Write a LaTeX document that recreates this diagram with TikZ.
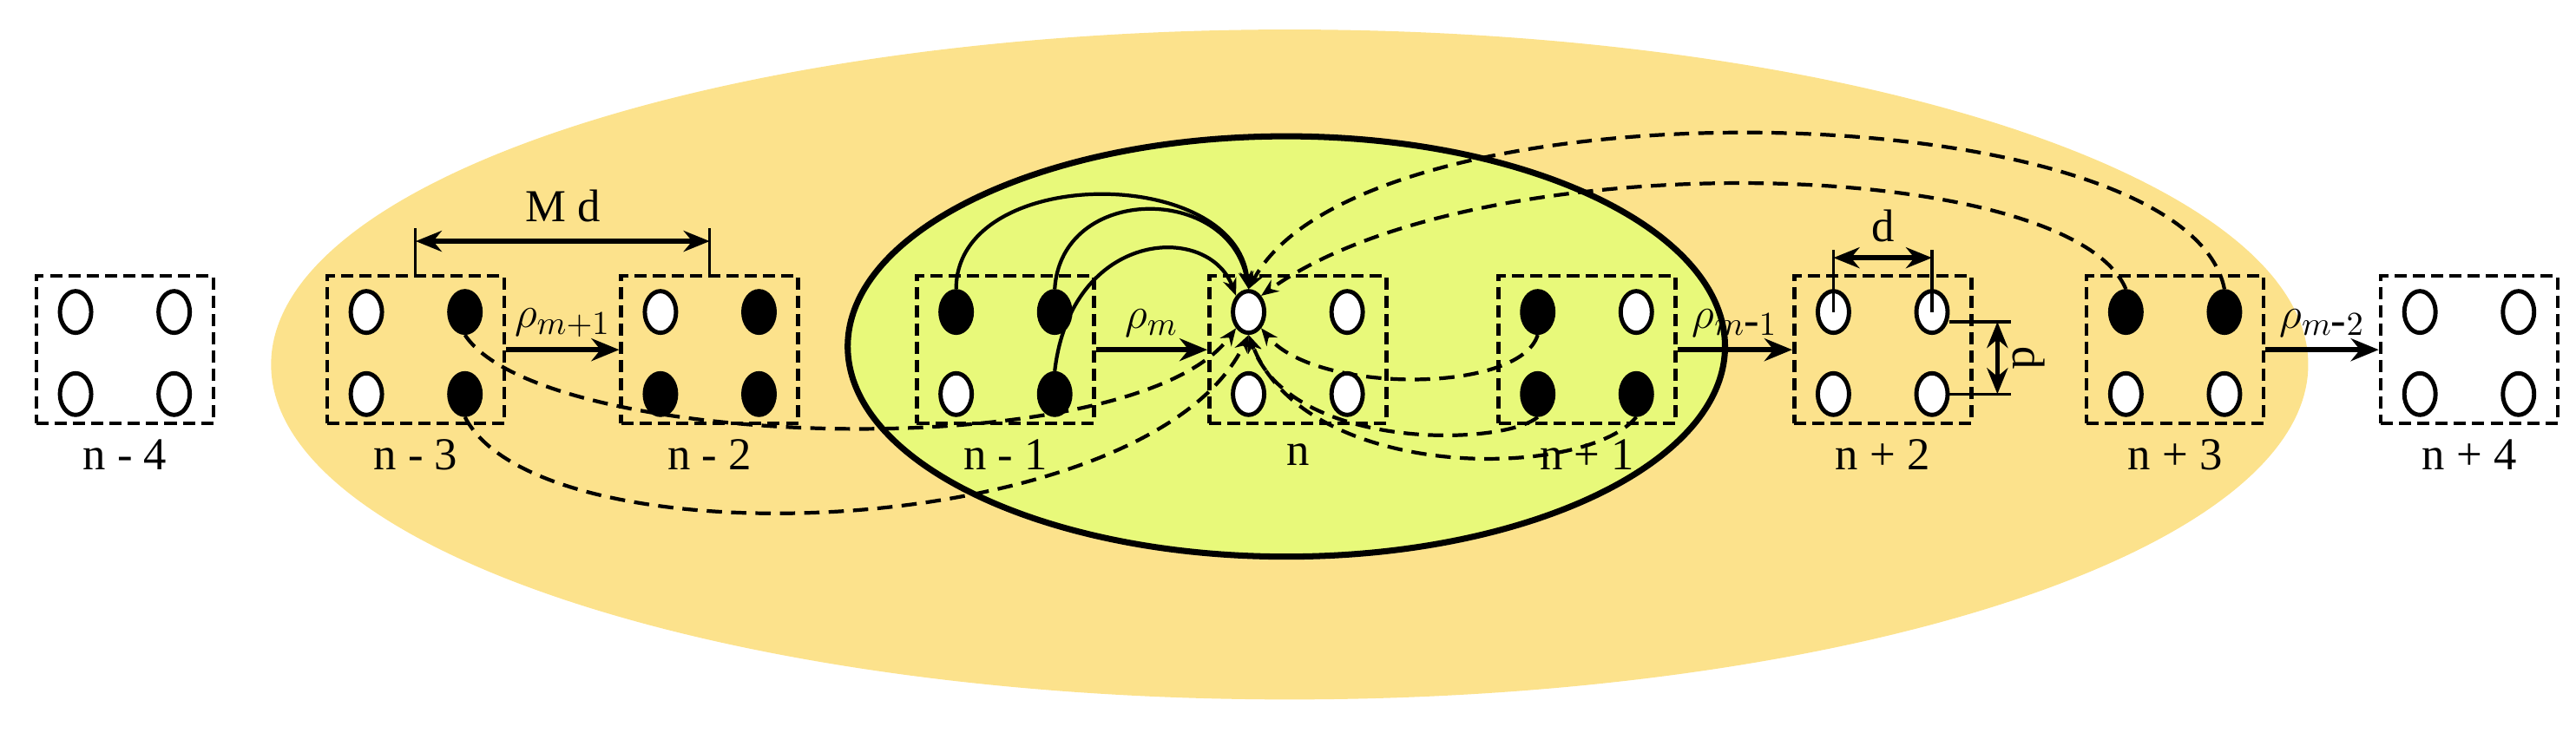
\documentclass[tikz,border=0pt]{standalone}
\usepackage{fontspec}
\setmainfont{Liberation Serif}
\usetikzlibrary{shapes.geometric, arrows.meta, calc}
\definecolor{outer}{RGB}{252,226,140}
\definecolor{inner}{RGB}{232,249,122}
\tikzset{
  cell/.style={draw, dashed, dash pattern=on 4pt off 2pt, line width=1.3pt, minimum width=20.4mm, minimum height=17mm, inner sep=0pt},
  hole/.style={draw, ellipse, line width=1.4pt, minimum width=3.6mm, minimum height=4.8mm, inner sep=0pt, fill=white},
  full/.style={hole, fill=black},
  flow/.style={-{Stealth[length=3.2mm,width=2.6mm]}, line width=1.6pt},
  link/.style={-{Stealth[length=2mm,width=1.6mm]}, line width=1.2pt},
  dlink/.style={link, dash pattern=on 5pt off 3pt},
  dim/.style={{Stealth[length=3mm,width=2.4mm]}-{Stealth[length=3mm,width=2.4mm]}, line width=1.6pt},
}
\begin{document}
\begin{tikzpicture}[x=0.1893mm, y=-0.1893mm, font=\fontsize{15}{17}\selectfont]
\useasboundingbox (0,0) rectangle (1568,446);
% zones
\fill[outer] (785,222) ellipse [x radius=620, y radius=204];
\filldraw[fill=inner, line width=2pt] (783,211) ellipse [x radius=267, y radius=128];
% cells
\foreach \k/\x/\lab/\a/\b/\c/\d in {1/22/n - 4/hole/hole/hole/hole,
    2/199/n - 3/hole/full/hole/full, 3/378/n - 2/hole/full/full/full,
    4/558/n - 1/full/full/hole/full, 5/736/n/hole/hole/hole/hole,
    6/912/n + 1/full/hole/full/full, 7/1092/n + 2/hole/hole/hole/hole,
    8/1270/n + 3/full/full/hole/hole, 9/1449/n + 4/hole/hole/hole/hole}{
  \node[cell] (c\k) at (\x+54,213) {};
  \node[\a] (h\k1) at (\x+24,190) {};
  \node[\b] (h\k2) at (\x+84,190) {};
  \node[\c] (h\k3) at (\x+24,240) {};
  \node[\d] (h\k4) at (\x+84,240) {};
  \node (l\k) at (\x+54,277) {\lab};
}
% shifts
\draw[flow] (c2.east) -- (c3.west) node[midway, above] {$\rho_{m+1}$};
\draw[flow] (c4.east) -- (c5.west) node[midway, above] {$\rho_{m}$};
\draw[flow] (c6.east) -- (c7.west) node[midway, above] {$\rho_{m\mbox{-}1}$};
\draw[flow] (c8.east) -- (c9.west) node[midway, above] {$\rho_{m\mbox{-}2}$};
% solid links
\draw[link] (h41.north) .. controls (582,100) and (752,100) .. (h51.north);
\draw[link] (h42.north) .. controls (646,112) and (748,112) .. (h51.north);
\draw[link] (h44.north) .. controls (652,140) and (735,135) .. (h51.north west);
% dashed links
\draw[dlink] (h22.south) .. controls (330,275) and (690,285) .. (h51.south west);
\draw[dlink] (h24.south) .. controls (330,345) and (700,330) .. (h51.south);
\draw[dlink] (h61.south) .. controls (925,240) and (800,240) .. (h51.south east);
\draw[dlink] (h63.south) .. controls (915,272) and (785,275) .. (h51.south);
\draw[dlink] (h64.south) .. controls (965,292) and (795,295) .. (h51.south);
\draw[dlink] (h81.north) .. controls (1260,95) and (900,85) .. (h51.north east);
\draw[dlink] (h82.north) .. controls (1330,55) and (830,45) .. (h51.north);
% dimensions
\coordinate (m1) at ($(c2.north)+(0,-28)$);
\coordinate (m2) at ($(c3.north)+(0,-28)$);
\draw[line width=0.9pt] (c2.north) -- (m1);
\draw[line width=0.9pt] (c3.north) -- (m2);
\draw[dim] ($(m1)+(0,8)$) -- ($(m2)+(0,8)$) node[midway, above=2pt] {M d};
\coordinate (d1) at ($(h71.center)+(0,-38)$);
\coordinate (d2) at ($(h72.center)+(0,-38)$);
\draw[line width=0.9pt] (h71.center) -- (d1);
\draw[line width=0.9pt] (h72.center) -- (d2);
\draw[dim] ($(d1)+(0,5)$) -- ($(d2)+(0,5)$) node[midway, above=1pt] {d};
\coordinate (p1) at ($(h72.east)+(37,6)$);
\coordinate (p2) at ($(h74.east)+(37,0)$);
\draw[line width=0.9pt] ($(h72.east)+(0,6)$) -- (p1);
\draw[line width=0.9pt] (h74.east) -- (p2);
\draw[dim] ($(p1)+(-8,0)$) -- ($(p2)+(-8,0)$) node[midway, right=1pt, rotate=-90, anchor=south] {d};
\end{tikzpicture}
\end{document}
